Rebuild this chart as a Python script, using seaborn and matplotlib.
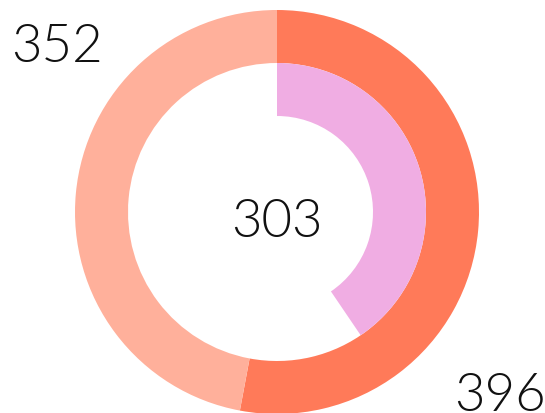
import matplotlib
matplotlib.use("Agg")
import matplotlib.pyplot as plt
import seaborn as sns

# outer ring: two segments, inner ring: one partial arc of the same total
outer_labels = ["396", "352"]
outer_values = [396, 352]
inner_label = "303"
inner_value = 303
total = sum(outer_values)

colors = ["#FF7A59", "#FFB09B", "#F0ADE3"]

sns.set_theme(style="white")
plt.rcParams["font.family"] = ["Lato", "DejaVu Sans"]

fig = plt.figure(figsize=(5.45, 4.14), dpi=100)
ax = fig.add_axes([0, 0, 1, 1])

cx, cy = 277, 201
ax.pie(outer_values, radius=202, center=(cx, cy), startangle=90,
       counterclock=False, colors=colors[:2],
       wedgeprops=dict(width=53, linewidth=0))
ax.pie([inner_value, total - inner_value], radius=149, center=(cx, cy),
       startangle=90, counterclock=False, colors=[colors[2], "none"],
       wedgeprops=dict(width=53, linewidth=0))

ax.set_xlim(0, 545)
ax.set_ylim(0, 414)
ax.set_aspect("equal")
ax.axis("off")

txt = dict(fontsize=38, fontweight=300, color="#111111", va="baseline")
ax.text(11, 352, outer_labels[1], ha="left", **txt)
ax.text(454, 3, outer_labels[0], ha="left", **txt)
ax.text(cx, 177, inner_label, ha="center", **txt)

fig.savefig("out.png", dpi=100)
